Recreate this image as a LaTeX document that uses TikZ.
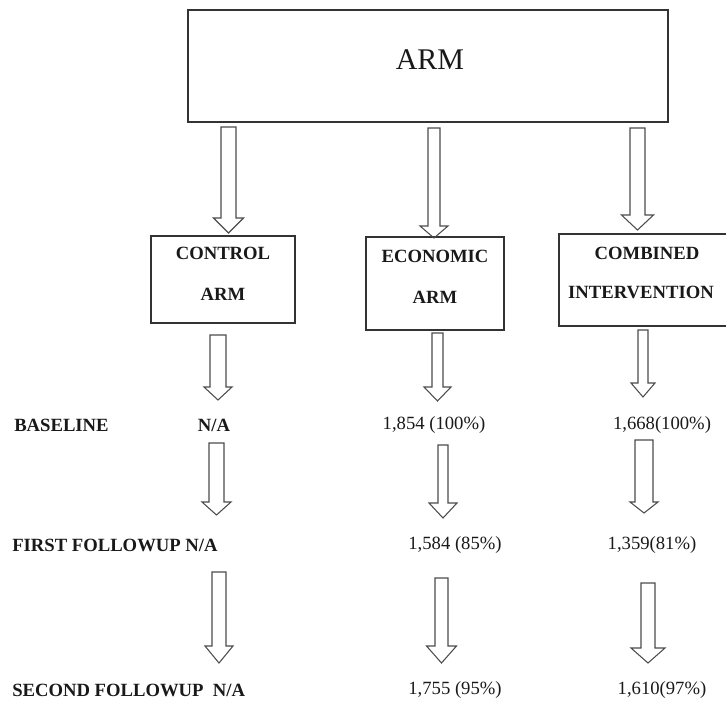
\documentclass[tikz,border=0pt]{standalone}
\usepackage{fontspec}
\setmainfont{Liberation Serif}
\newcommand{\blkarrow}[6]{%
  \draw[arrowline] ({#1-#5},#2) -- ({#1+#5},#2) -- ({#1+#5},#3) -- ({#1+#6},#3)
    -- (#1,#4) -- ({#1-#6},#3) -- ({#1-#5},#3) -- cycle;}
\tikzset{
  boxline/.style={draw=black!80, line width=1.1pt},
  arrowline/.style={draw=black!70, line width=0.8pt, line join=miter},
  hdr/.style={font=\fontsize{14}{16}\selectfont\bfseries, text=black!90, inner sep=0pt},
  num/.style={font=\fontsize{14}{16}\selectfont, text=black!90, inner sep=0pt},
}
\begin{document}
\begin{tikzpicture}[x=0.75pt,y=-0.75pt]
\useasboundingbox (0,0) rectangle (726,703);
\begin{scope}
\clip (0,0) rectangle (726,703);
% boxes
\draw[boxline] (188,10) rectangle (668,122);
\node[inner sep=0pt, font=\fontsize{22.5}{26}\selectfont, text=black!90] (arm) at (430,60) {ARM};
\draw[boxline] (151,236) rectangle (295,323);
\node[hdr] (ctl1) at (223,253) {CONTROL};
\node[hdr] (ctl2) at (223,294) {ARM};
\draw[boxline] (366,237) rectangle (504,330);
\node[hdr] (eco1) at (435,256) {ECONOMIC};
\draw (435,297) node[hdr] (eco2) {ARM};
\draw[boxline] (559,234) rectangle (745,326);
\node[hdr] (com1) at (647,253) {COMBINED};
\node[hdr] (com2) at (641,292) {INTERVENTION};
% top arrows
\blkarrow{228.5}{127}{218}{233}{7.5}{15}
\blkarrow{434}{128}{226}{238}{6}{14}
\blkarrow{637.5}{128}{215}{230}{7.5}{16}
% second row
\blkarrow{218}{335}{387}{400}{8}{14}
\blkarrow{437.5}{333}{387}{401}{5.5}{13.5}
\blkarrow{643}{330}{383}{397}{5}{12}
% third row
\blkarrow{216.5}{443}{502}{515}{7.5}{14.5}
\blkarrow{443}{445}{503}{518}{5}{14}
\blkarrow{644}{440}{502}{513}{9}{14}
% fourth row
\blkarrow{219}{572}{646}{663}{7}{14}
\blkarrow{441.5}{578}{646}{663}{6.5}{15}
\blkarrow{648}{583}{648}{663}{7}{17}
% row texts
\node[hdr, anchor=west] (bl) at (14,425) {BASELINE};
\node[hdr] (bln) at (214,425) {N/A};
\node[num] (ble) at (434,425) {1,854 (100\%)};
\node[num] (blc) at (662,425) {1,668(100\%)};
\node[hdr, anchor=west] (ff) at (12,545) {FIRST FOLLOWUP N/A};
\node[num] (ffe) at (455,545) {1,584 (85\%)};
\node[num] (ffc) at (652,545) {1,359(81\%)};
\node[hdr, anchor=west] (sf) at (12,690) {SECOND FOLLOWUP\ \ N/A};
\node[num] (sfe) at (455,690) {1,755 (95\%)};
\node[num] (sfc) at (662,690) {1,610(97\%)};
\end{scope}
\end{tikzpicture}
\end{document}
